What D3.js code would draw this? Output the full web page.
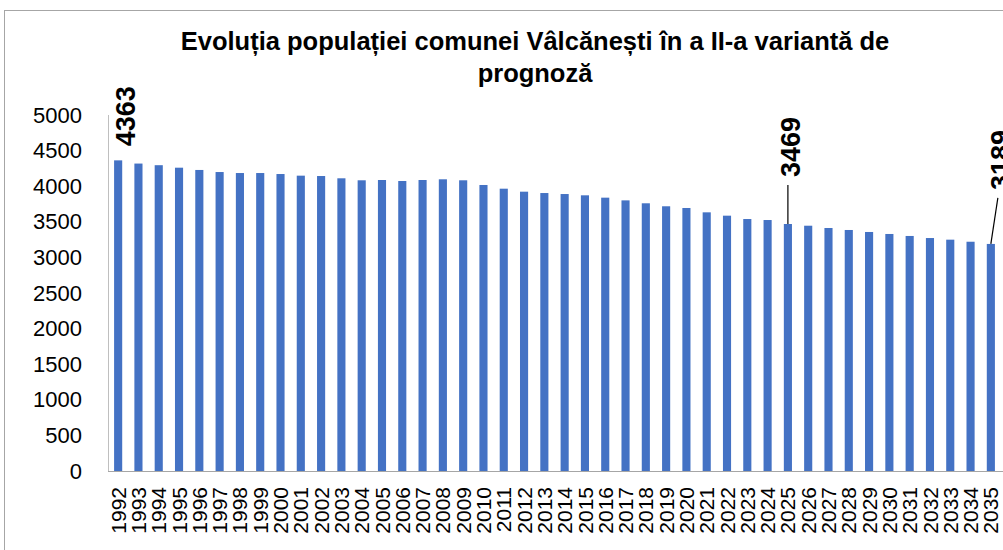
<!DOCTYPE html>
<html>
<head>
<meta charset="utf-8">
<script src="https://cdn.jsdelivr.net/npm/d3@7"></script>
<style>
  body { margin: 0; background: #fff; }
  svg { display: block; font-family: "Liberation Sans", Arial, sans-serif; }
</style>
</head>
<body>
<div id="chart"></div>
<script>
'use strict';

// population, 1992 - 2035
var years = d3.range(1992, 2036);
var population = [
	4363, 4318, 4295, 4260, 4228, 4199, 4185, 4185, 4171, 4148, 4143,
	4111, 4083, 4087, 4073, 4087, 4097, 4083, 4017, 3965, 3923, 3904,
	3890, 3872, 3839, 3801, 3760, 3718, 3694, 3633, 3586, 3539, 3525,
	3469, 3445, 3413, 3385, 3357, 3329, 3301, 3272, 3249, 3220, 3189
];
var yTicks = [0, 500, 1000, 1500, 2000, 2500, 3000, 3500, 4000, 4500, 5000];
var labelledYears = [1992, 2025, 2035];
var titleLines = ['Evoluția populației comunei Vâlcănești în a II-a variantă de', 'prognoză'];

var width = 1003, height = 550;
var plot = {left: 108, right: 1001, top: 115, bottom: 471};

// where each data label sits, relative to the top of its bar
var labelPlace = {
	1992: {dx: 17, dy: -14, leader: false},
	2025: {dx: 12, dy: -47, leader: true},
	2035: {dx: 19, dy: -54, leader: true}
};

var svg = d3.select('#chart').append('svg')
	.attr('width', width)
	.attr('height', height);

// chart frame
svg.append('rect')
	.attr('x', 4.5).attr('y', 10.5)
	.attr('width', width + 10).attr('height', height + 10)
	.attr('fill', 'none')
	.attr('stroke', '#a6a6a6');

var x = d3.scaleBand()
	.domain(years)
	.range([plot.left, plot.right])
	.paddingInner(0.6)
	.paddingOuter(0.3);

var y = d3.scaleLinear()
	.domain([0, 5000])
	.range([plot.bottom, plot.top]);

// title
svg.append('g').selectAll('text')
	.data(titleLines)
	.join('text')
	.attr('x', 535)
	.attr('y', function(d, i) { return 50 + i * 32; })
	.attr('text-anchor', 'middle')
	.style('font-size', '25.5px')
	.style('font-weight', 'bold')
	.style('fill', '#000')
	.text(function(d) { return d; });

// y axis labels
var yAxis = d3.axisLeft(y).tickValues(yTicks).tickFormat(d3.format('d')).tickSize(0).tickPadding(26);
svg.append('g')
	.attr('transform', 'translate(' + plot.left + ',0)')
	.call(yAxis)
	.call(function(g) {
		g.select('.domain').remove();
		g.selectAll('text')
			.style('font-size', '22px')
			.style('font-family', '"Liberation Sans", Arial, sans-serif')
			.attr('fill', '#000');
	});

// bars
svg.append('g').selectAll('rect')
	.data(years)
	.join('rect')
	.attr('x', function(d) { return x(d); })
	.attr('width', x.bandwidth())
	.attr('y', function(d, i) { return y(population[i]); })
	.attr('height', function(d, i) { return y(0) - y(population[i]); })
	.attr('fill', '#4472c4');

// axis lines
svg.append('line')
	.attr('x1', plot.left + 0.5).attr('x2', plot.left + 0.5)
	.attr('y1', plot.top).attr('y2', plot.bottom)
	.attr('stroke', '#bfbfbf');

var xAxis = d3.axisBottom(x).tickSize(0).tickPadding(16);
svg.append('g')
	.attr('transform', 'translate(0,' + plot.bottom + ')')
	.call(xAxis)
	.call(function(g) {
		g.select('.domain')
			.attr('d', 'M' + plot.left + ',0.5H' + width)
			.attr('stroke', '#a6a6a6');
		g.selectAll('text')
			.attr('transform', 'rotate(-90)')
			.attr('x', -16)
			.attr('y', 0)
			.attr('dy', '0.36em')
			.attr('text-anchor', 'end')
			.style('font-size', '21px')
			.style('font-family', '"Liberation Sans", Arial, sans-serif')
			.attr('fill', '#000');
	});

// data labels
var labels = svg.append('g');
labelledYears.forEach(function(yr) {
	var i = years.indexOf(yr);
	var cx = x(yr) + x.bandwidth() / 2;
	var top = y(population[i]);
	var p = labelPlace[yr];
	if (p.leader) {
		labels.append('line')
			.attr('x1', cx).attr('y1', top)
			.attr('x2', cx + p.dx - 12).attr('y2', top + p.dy + 8)
			.attr('stroke', '#000')
			.attr('stroke-width', 1.2);
	}
	labels.append('text')
		.attr('transform', 'translate(' + (cx + p.dx) + ',' + (top + p.dy) + ') rotate(-90)')
		.attr('text-anchor', 'start')
		.style('font-size', '27px')
		.style('font-weight', 'bold')
		.style('fill', '#000')
		.text(population[i]);
});
</script>
</body>
</html>
